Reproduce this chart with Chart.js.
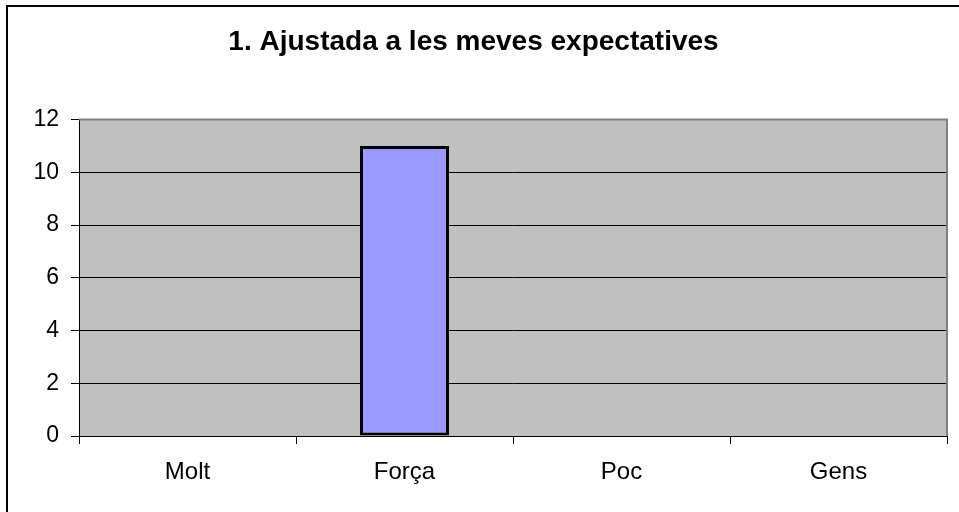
<!DOCTYPE html>
<html>
<head>
<meta charset="utf-8">
<script src="https://cdn.jsdelivr.net/npm/chart.js@4/dist/chart.umd.min.js"></script>
<style>
    body { margin: 0; background: #fff; }
    canvas { display: block; }
</style>
</head>
<body>
<canvas id="chart" width="959" height="512"></canvas>
<script>
// Dades del gràfic
const titol = '1. Ajustada a les meves expectatives';
const categories = ['Molt', 'Força', 'Poc', 'Gens'];
const valors = [0, 11, 0, 0];
const yMax = 12;
const yPas = 2;

const font = 'Liberation Sans, Arial, sans-serif';

// Fons gris de l'àrea del gràfic, vora exterior i vores superiors/dreta
const decoracio = {
    id: 'decoracio',
    beforeDraw(chart) {
        const { ctx, chartArea: a } = chart;
        ctx.save();
        ctx.fillStyle = '#fff';
        ctx.fillRect(0, 0, chart.width, chart.height);
        ctx.strokeStyle = '#000';
        ctx.lineWidth = 2;
        ctx.strokeRect(7, 6, 2000, 2000);
        ctx.fillStyle = '#c0c0c0';
        ctx.fillRect(a.left, a.top, a.right - a.left, a.bottom - a.top);
        ctx.restore();
    },
    afterDatasetsDraw(chart) {
        const { ctx, chartArea: a } = chart;
        ctx.save();
        ctx.strokeStyle = '#808080';
        ctx.lineWidth = 2;
        ctx.beginPath();
        ctx.moveTo(a.left, a.top);
        ctx.lineTo(a.right, a.top);
        ctx.lineTo(a.right, a.bottom);
        ctx.stroke();
        ctx.restore();
    }
};

new Chart(document.getElementById('chart'), {
    type: 'bar',
    data: {
        labels: categories,
        datasets: [{
            data: valors,
            backgroundColor: '#9999ff',
            borderColor: '#000',
            borderWidth: ctx => (ctx.raw ? 3 : 0),
            borderSkipped: false,
            barPercentage: 0.41,
            categoryPercentage: 1
        }]
    },
    options: {
        responsive: false,
        animation: false,
        layout: { padding: { left: 0, right: 12, top: 0, bottom: 0 } },
        plugins: {
            legend: { display: false },
            tooltip: { enabled: false },
            title: {
                display: true,
                text: titol,
                color: '#000',
                font: { family: font, size: 28, weight: 'bold' },
                padding: { top: 25, bottom: 61 }
            }
        },
        scales: {
            x: {
                grid: {
                    offset: true,
                    drawOnChartArea: false,
                    color: '#000',
                    tickLength: 8
                },
                border: { color: '#000', width: 1 },
                ticks: {
                    color: '#000',
                    padding: 14,
                    font: { family: font, size: 24 }
                },
                afterFit(scale) { scale.height = 76; }
            },
            y: {
                min: 0,
                max: yMax,
                ticks: {
                    stepSize: yPas,
                    color: '#000',
                    padding: 12,
                    font: { family: font, size: 23 }
                },
                grid: {
                    color: ctx => (ctx.tick && ctx.tick.value === yMax ? '#808080' : '#000'),
                    tickColor: '#000',
                    tickLength: 8
                },
                border: { color: '#000', width: 1 },
                afterFit(scale) { scale.width = 79; }
            }
        }
    },
    plugins: [decoracio]
});
</script>
</body>
</html>
